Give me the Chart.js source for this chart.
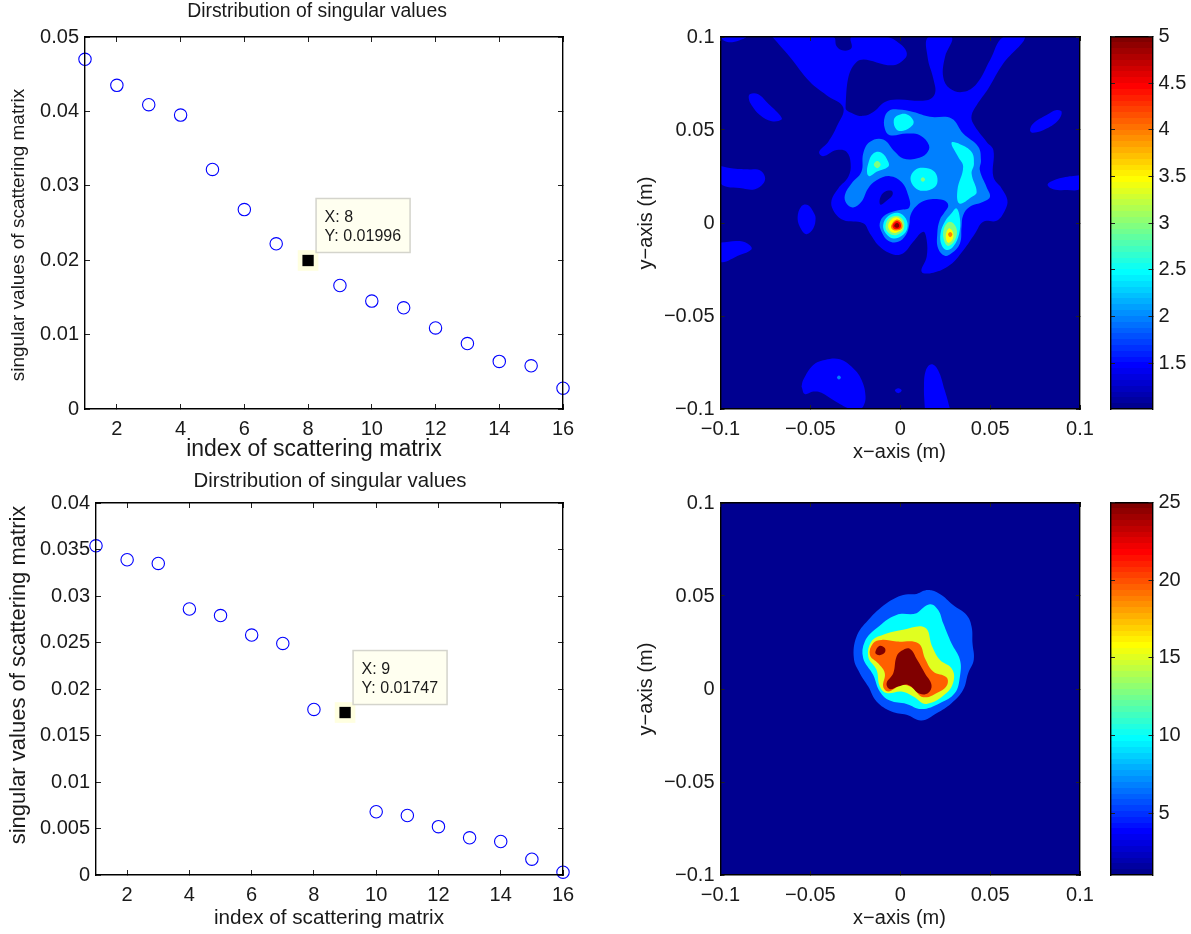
<!DOCTYPE html>
<html>
<head>
<meta charset="utf-8">
<title>Dirstribution of singular values</title>
<script src="https://cdn.jsdelivr.net/npm/chart.js@4"></script>
<style>
  body { margin: 0; background: #fff; }
  canvas { position: absolute; }
</style>
</head>
<body>
<canvas id="scatterTop" style="left:0;top:0" width="600" height="466"></canvas>
<canvas id="contourTop" style="left:600px;top:0" width="500" height="466"></canvas>
<canvas id="barTop" style="left:1100px;top:0" width="91" height="466"></canvas>
<canvas id="scatterBottom" style="left:0;top:466px" width="600" height="466"></canvas>
<canvas id="contourBottom" style="left:600px;top:466px" width="500" height="466"></canvas>
<canvas id="barBottom" style="left:1100px;top:466px" width="91" height="466"></canvas>
<script>
// singular values
var indexes = [1, 2, 3, 4, 5, 6, 7, 8, 9, 10, 11, 12, 13, 14, 15, 16];
var valuesTop = [0.0470, 0.0435, 0.0409, 0.0395, 0.0322, 0.0268, 0.0222, 0.01996, 0.0166, 0.0145, 0.0136, 0.0109, 0.0088, 0.0064, 0.0058, 0.0028];
var valuesBottom = [0.0354, 0.0339, 0.0335, 0.0286, 0.0279, 0.0258, 0.0249, 0.0178, 0.01747, 0.0068, 0.0064, 0.0052, 0.0040, 0.0036, 0.0017, 0.0003];
var pickedTop = 8;
var pickedBottom = 9;

var xTicksScatter = [2, 4, 6, 8, 10, 12, 14, 16];
var yTicksTop = [0, 0.01, 0.02, 0.03, 0.04, 0.05];
var yTicksBottom = [0, 0.005, 0.01, 0.015, 0.02, 0.025, 0.03, 0.035, 0.04];
var ticksContour = [-0.1, -0.05, 0, 0.05, 0.1];
var barTicksTop = [1.5, 2, 2.5, 3, 3.5, 4, 4.5, 5];
var barTicksBottom = [5, 10, 15, 20, 25];

// jet(64), colour bars and contour levels use it
var jet = ['#000090','#0000A0','#0000B0','#0000C0','#0000D0','#0000E0','#0000F0','#0000FF',
  '#0010FF','#0020FF','#0030FF','#0040FF','#0050FF','#0060FF','#0070FF','#0080FF',
  '#0090FF','#00A0FF','#00B0FF','#00C0FF','#00D0FF','#00E0FF','#00F0FF','#00FFFF',
  '#10FFF0','#20FFE0','#30FFD0','#40FFC0','#50FFB0','#60FFA0','#70FF90','#80FF80',
  '#90FF70','#A0FF60','#B0FF50','#C0FF40','#D0FF30','#E0FF20','#F0FF10','#FFFF00',
  '#FFF000','#FFE000','#FFD000','#FFC000','#FFB000','#FFA000','#FF9000','#FF8000',
  '#FF7000','#FF6000','#FF5000','#FF4000','#FF3000','#FF2000','#FF1000','#FF0000',
  '#F00000','#E00000','#D00000','#C00000','#B00000','#A00000','#900000','#800000'];

// contour outlines, [x, y] in mm
var frame = [[-100,-100],[-100,100],[100,100],[100,-100]];

var topMain = [[-71.1,100],[-61.4,89.3],[-50.3,75.9],[-41,68.7],[-31.7,62.1],[-35.4,51.7],[-40.1,43.6],[-45.1,38.3],[-42.9,35.9],[-35.4,39.2],[-29.9,38.3],[-27.6,32],[-28.9,24.8],[-34.5,18.6],[-38.2,12.3],[-37.3,6.9],[-31.7,1.6],[-20.6,-0.2],[-16.9,-5.6],[-11.3,-12.8],[-3.9,-16.9],[1.7,-16.3],[7.2,-10.1],[12.8,-4.7],[14.7,-9.2],[14.7,-18.1],[11.9,-26.2],[18.4,-26.7],[27.6,-22.6],[35.1,-14.6],[41.6,-5.6],[46.2,0.7],[53.6,1.2],[58.3,6.9],[59.6,12.3],[56.4,18.6],[51.8,24.8],[51.8,39.2],[48.1,43.6],[40.6,53.5],[39.7,57.9],[42.5,63.3],[49,72.3],[57.3,85.7],[69.4,100],[57.3,100],[49.9,87.5],[42.5,74.9],[35.1,70.5],[27.6,72.3],[23.9,78.5],[24.9,89.3],[28.6,100],[15.6,100],[15.2,89.3],[18.4,77.6],[19.3,69.6],[14.7,66],[-2,66.4],[-8.5,65.1],[-15,59.7],[-20.6,57.6],[-26.2,58.8],[-30.4,62.1],[-24.3,86.6],[-3.9,84.8],[2.6,88.4],[3.5,92],[-0.2,96.4],[-7.6,100],[-27.1,100],[-27.1,94.1],[-31.7,92.7],[-35.4,95],[-37.3,100]];
var topPatches = [
  [[-100,100],[-98,98],[-93.5,97.2],[-88.3,98.6],[-85.9,100]],
  [[-83.7,69.2],[-79,69.2],[-73.4,64.1],[-66.9,57.9],[-66,55.6],[-71.5,54.7],[-78.1,58],[-82.7,63.3],[-84.2,66.6]],
  [[-100,30.7],[-92.9,29.3],[-83.7,28.8],[-78.1,28.4],[-75.3,24.8],[-76.2,21.2],[-80.8,18.2],[-87.4,18.5],[-100,21.2]],
  [[89.8,59.7],[87,60.7],[81.4,58],[74,53.5],[72.2,49.9],[74,48.5],[81.4,50.8],[87.9,55.3]],
  [[100,25.7],[90.7,24.5],[83.3,22.1],[82,20.3],[85.1,18.2],[92.6,17.7],[100,18.5]],
  [[-57.1,2.5],[-54.9,9.1],[-51.2,9.6],[-48.1,5.5],[-47.1,2.5],[-48.4,-2.9],[-52.1,-6],[-54.9,-3.8]],
  [[-100,-10.5],[-89.3,-9.7],[-83.7,-11.9],[-82.8,-14.2],[-89.3,-17.2],[-100,-20.8]],
  [[-54.9,-88],[-54,-84.4],[-48.4,-76.3],[-41.9,-73.6],[-33.6,-73.3],[-26.2,-78.1],[-21.5,-84.4],[-19.3,-93.3],[-20.6,-98.7],[-22.8,-100],[-27.6,-100],[-37.3,-95.1],[-43.8,-91.2],[-48.4,-90.6],[-53.1,-91.9]],
  [[-3,-90.1],[-1.1,-88.8],[0.8,-90.1],[-1.1,-91.5]],
  [[13.7,-100],[13.2,-87.9],[14.3,-79],[17.4,-75.9],[21,-79],[24.7,-89.8],[27.3,-98.7],[27.3,-100]]
];
var topLight = [
  [[-1.2,61],[7.2,59.7],[16.5,57.1],[28.5,56.2],[35,48.1],[43.4,41],[44.9,33.8],[44.3,28.4],[48,19.4],[49.9,14.1],[46.2,11.4],[38.7,8.7],[35,4.2],[34.1,-2],[33.2,-11],[28.5,-16.3],[24.8,-17.6],[21.1,-13.7],[20.6,-5.6],[22,1.6],[24.8,6],[26.7,9.6],[23.9,12.3],[14.6,12.3],[9,9.1],[5.7,4.2],[5,-1.1],[3.1,-6.5],[-1.2,-10.1],[-6.7,-9.5],[-10.4,-4.7],[-11.4,-0.2],[-8.6,4.2],[-1.2,6.9],[5,8.4],[4.4,15],[0.7,22.1],[-5.8,25.2],[-13.2,23],[-17.9,18.6],[-21.6,11.4],[-26.2,8.4],[-29.9,10.5],[-30.8,15],[-27.1,21.2],[-21.6,27.5],[-20.6,37.4],[-17,43.6],[-9.5,44.9],[-3,38.3],[1.6,34.7],[9,34.7],[14.6,37.4],[16,41.8],[10.9,47.2],[3.5,48.1],[-5.8,47.2],[-8.6,50.8],[-8.6,57.1],[-5.8,60.6]],
  [[-35.2,-83.1],[-34.1,-82],[-33,-83.1],[-34.1,-84.2]]
];
var topHole = [[-11.3,13.2],[-8.6,16.8],[-4.8,17.3],[-4.3,15],[-7.6,11.9],[-10.9,9.8]];
var topCyan = [
  [[-3.6,55.3],[-1.2,57.9],[3.5,58.5],[7.2,55.3],[6.8,52.6],[1.6,49.6],[-2.1,50.3]],
  [[-18.4,26.6],[-17.8,32],[-15,37.4],[-10.4,37.8],[-6.7,32.9],[-6.7,30.2],[-13.2,27.5],[-16.9,25.2]],
  [[5.7,23.9],[8.1,28.4],[12.8,29.7],[18.4,28.1],[20.7,23.9],[19.3,19.4],[12.8,17.3],[8.1,19.1]],
  [[28.5,43.1],[33.2,42.4],[39.7,38.2],[41,31.9],[39.7,26.5],[42.5,16.7],[39.7,14],[32.9,10.5],[31.8,17.6],[35,30.2],[32.2,35.6]],
  [[31.3,7.8],[33.2,2.4],[32.8,-5.6],[29.5,-12.7],[25.8,-14.5],[23,-11.8],[22.4,-5.6],[24.8,0.7],[28.5,5.2]],
  [[-9.5,-1.1],[-6.7,3.7],[-1.2,5.5],[3.1,2.4],[3.9,-2.9],[0.7,-7],[-3.9,-8.3],[-8,-5.6]]
];
var topGreen = [
  [[-14.7,31.4],[-12.8,33.3],[-10.9,31.4],[-12.8,29.5]],
  [[11.4,23.4],[12.6,24.6],[13.8,23.4],[12.6,22.2]],
  [[27.6,0.7],[31.3,-2.9],[30.4,-9.2],[26.7,-12.3],[24.3,-9.2],[24.3,-2.9]],
  [[-8.2,-1.7],[-6.2,2.5],[-1.7,3.9],[1.6,1.6],[2.1,-2.9],[-0.2,-5.6],[-3.9,-6.5],[-7.1,-4.7]]
];
var topYellow = [
  [[27.6,-2.9],[29.5,-5.6],[28.9,-9.2],[26.7,-10.6],[25.4,-8.3],[25.8,-4.7]],
  [[-6.7,-1.1],[-4.9,1.9],[-1.7,3],[0.7,0.7],[1.1,-2.9],[-1.1,-4.7],[-3.9,-5.3],[-6,-3.8]]
];
var topOrange = [
  [[26.6,-6.2],[27.8,-4.9],[29,-6.2],[27.8,-7.6]],
  [[-5,-1.2],[-2.2,1.8],[0.7,0.4],[1,-2.8],[-2,-4],[-4.6,-3.2]]
];
var topRed = [[-4.2,-1],[-2,1.1],[0,0],[0.2,-2.4],[-2,-3.3],[-3.8,-2.8]];
var topDark = [[-3.3,-1.2],[-2,0],[-0.8,-0.6],[-0.7,-2],[-2,-2.6],[-3,-2.2]];

var bottomBlue = [[15.5,53.2],[22,51.1],[29.4,45.2],[36.9,39.8],[39.7,33.5],[40.2,24.6],[40.9,15.7],[37.8,8.5],[35,-0.4],[28.5,-7.6],[20.2,-13],[11.8,-16.9],[3.5,-13.9],[-4.9,-12.1],[-13.2,-6.7],[-17.8,1.3],[-22.5,8.5],[-25.8,16.5],[-24.3,28.2],[-17.8,37.1],[-7.6,46.1],[1.6,50.6],[9.1,51.1]];
var bottomCyan = [[16.5,45.6],[21.1,42.5],[23.9,35.3],[28.5,24.6],[33.2,15.7],[33.2,6.7],[30.4,-2.2],[22,-7.6],[11.8,-10.8],[3.5,-8],[-5.8,-6.2],[-11.4,-1.3],[-15.1,7.6],[-20.6,16.5],[-19.7,25.5],[-13.2,32.6],[-2.1,39.8],[9.1,40.7]];
var bottomYellow = [[13.7,33],[17.4,23.7],[22,15.7],[28.5,11.2],[29.8,4.9],[25.7,-2.2],[14.6,-8],[7.2,-4],[0.7,-1.4],[-7.6,-2.2],[-11.4,1.3],[-13.2,10.3],[-17.8,17.4],[-16,25.5],[-9.5,29.1],[1.6,31.8]];
var bottomOrange = [[10,24.6],[13.7,16.5],[18.3,9.4],[25.7,6.3],[26.1,2.2],[22,-1.3],[12.8,-4.4],[6.3,1],[0.7,2.2],[-6.7,-1.3],[-9.5,1.3],[-8.6,8.5],[-12.3,13.8],[-16.9,18.3],[-15.1,24.6],[-10.4,26.4],[-2.1,25.5]];
var bottomDark = [
  [[5.3,21.6],[9.4,15.7],[13.7,8.5],[17.4,2.2],[15.5,-2.2],[10.9,-2.6],[4.4,2.2],[-1.2,1.3],[-5.8,-0.1],[-7.6,3.1],[-3.9,8.5],[-2.1,17.4],[0.7,20.5]],
  [[-13.6,20.7],[-11.4,23.2],[-8.6,22],[-8.6,19.6],[-11.4,18.2],[-13.6,18.9]]
];

var FONT = '"Liberation Sans", Arial, sans-serif';
var INK = '#1a1a1a';

function axis(position, min, max, ticks, size, labelled, tickLength) {
  var wide = position === 'top' || position === 'bottom';
  var len = tickLength || 5;
  return {
    type: 'linear', position: position, min: min, max: max,
    afterBuildTicks: function (s) { s.ticks = ticks.map(function (v) { return { value: v }; }); },
    afterFit: function (s) {
      if (wide) s.height = size; else s.width = size;
      // end labels may hang over the plot box, as in the original
      s.paddingLeft = s.paddingRight = s.paddingTop = s.paddingBottom = 0;
    },
    border: { color: '#000', width: 1.4, z: 1 },
    grid: { drawOnChartArea: false, tickLength: -len, tickWidth: 1, tickColor: '#222', z: 1 },
    ticks: {
      display: labelled, autoSkip: false, maxRotation: 0, padding: len + (wide ? 8 : 6), color: INK,
      font: { family: FONT, size: 20 },
      callback: function (v) { return String(v).replace('-', '\u2212'); }
    }
  };
}

// titles and axis names sit off centre in the original, so they are placed by hand
function captions(list) {
  return {
    id: 'captions',
    afterDraw: function (chart) {
      var ctx = chart.ctx;
      list.forEach(function (c) {
        ctx.save();
        ctx.translate(c.x, c.y);
        if (c.up) ctx.rotate(-Math.PI / 2);
        ctx.font = c.size + 'px ' + FONT;
        ctx.fillStyle = INK;
        ctx.textAlign = 'center';
        ctx.textBaseline = 'middle';
        ctx.fillText(c.text, 0, 0);
        ctx.restore();
      });
    }
  };
}

function datatip(x, y) {
  return {
    id: 'datatip',
    afterDraw: function (chart) {
      var ctx = chart.ctx;
      var px = chart.scales.x.getPixelForValue(x);
      var py = chart.scales.y.getPixelForValue(y);
      ctx.save();
      ctx.fillStyle = '#FFFFF0';
      ctx.strokeStyle = '#D4D4CC';
      ctx.lineWidth = 1.5;
      ctx.fillRect(px + 8, py - 62, 94, 54);
      ctx.strokeRect(px + 8, py - 62, 94, 54);
      ctx.fillStyle = INK;
      ctx.font = '16px ' + FONT;
      ctx.textBaseline = 'middle';
      ctx.fillText('X: ' + x, px + 16.5, py - 43);
      ctx.fillText('Y: ' + y, px + 16.5, py - 24);
      ctx.restore();
    }
  };
}

function scatterChart(id, values, picked, yMax, yTicks, leftWidth, texts) {
  var circles = [];
  indexes.forEach(function (ix, i) {
    if (ix !== picked) circles.push({ x: ix, y: values[i] });
  });
  var tip = [{ x: picked, y: values[picked - 1] }];
  new Chart(document.getElementById(id), {
    type: 'scatter',
    data: {
      datasets: [
        { data: tip, pointStyle: 'rect', pointRadius: 8, pointBorderWidth: 0, backgroundColor: '#000', clip: false, order: 0 },
        { data: tip, pointStyle: 'rect', pointRadius: 14.6, pointBorderWidth: 0, backgroundColor: '#FFFFE0', clip: false, order: 1 },
        { data: circles, pointRadius: 6.2, pointBorderWidth: 1.1, pointBorderColor: '#0000FF', backgroundColor: 'transparent', clip: false, order: 2 }
      ]
    },
    options: {
      responsive: false, animation: false, events: [],
      layout: { padding: { top: 37, right: 37 } },
      plugins: { legend: { display: false }, tooltip: { enabled: false } },
      scales: {
        x: axis('bottom', 1, 16, xTicksScatter, 57, true),
        y: axis('left', 0, yMax, yTicks, leftWidth, true),
        x2: axis('top', 1, 16, xTicksScatter, 0, false),
        y2: axis('right', 0, yMax, yTicks, 0, false)
      }
    },
    plugins: [captions(texts), datatip(picked, values[picked - 1])]
  });
}

function outline(poly) {
  var pts = poly.map(function (p) { return { x: p[0] / 1000, y: p[1] / 1000 }; });
  var onEdge = poly.some(function (p) { return Math.abs(p[0]) === 100 || Math.abs(p[1]) === 100; });
  // free-standing blobs wrap round one vertex so the spline has no kink where it closes
  if (!onEdge) return [pts[pts.length - 1]].concat(pts, [pts[0], pts[1]]);
  pts.push(pts[0]);
  return pts;
}

function contourChart(id, layers, texts) {
  var sets = [];
  layers.forEach(function (layer) {
    layer.polys.forEach(function (poly) {
      sets.push({
        data: outline(poly), showLine: true, fill: 'shape', tension: layer.tension === undefined ? 0.4 : layer.tension,
        backgroundColor: layer.color, borderColor: 'transparent', borderWidth: 0, pointRadius: 0, order: -sets.length
      });
    });
  });
  new Chart(document.getElementById(id), {
    type: 'scatter',
    data: { datasets: sets },
    options: {
      responsive: false, animation: false, events: [],
      layout: { padding: { top: 37, right: 20 } },
      plugins: { legend: { display: false }, tooltip: { enabled: false } },
      scales: {
        x: axis('bottom', -0.1, 0.1, ticksContour, 57, true, 4),
        y: axis('left', -0.1, 0.1, ticksContour, 120.5, true, 4),
        x2: axis('top', -0.1, 0.1, ticksContour, 0, false, 4),
        y2: axis('right', -0.1, 0.1, ticksContour, 0, false, 4)
      }
    },
    plugins: [captions(texts)]
  });
}

function colourBar(id, min, max, ticks) {
  new Chart(document.getElementById(id), {
    type: 'bar',
    data: {
      labels: [''],
      datasets: [{
        data: [[min, max]], barPercentage: 1, categoryPercentage: 1, yAxisID: 'y',
        backgroundColor: function (c) {
          var area = c.chart.chartArea;
          if (!area) return jet[0];
          var g = c.chart.ctx.createLinearGradient(0, area.bottom, 0, area.top);
          jet.forEach(function (col, i) {
            g.addColorStop(i / jet.length, col);
            g.addColorStop((i + 1) / jet.length, col);
          });
          return g;
        }
      }]
    },
    options: {
      responsive: false, animation: false, events: [],
      layout: { padding: { top: 36.5 } },
      plugins: { legend: { display: false }, tooltip: { enabled: false } },
      scales: {
        x: { type: 'category', position: 'bottom', afterFit: function (s) { s.height = 57; },
          border: { color: '#000', width: 1.4, z: 1 }, grid: { display: false }, ticks: { display: false } },
        x2: { type: 'category', position: 'top', afterFit: function (s) { s.height = 0; },
          border: { color: '#000', width: 1.4, z: 1 }, grid: { display: false }, ticks: { display: false } },
        y: axis('right', min, max, ticks, 38.5, true, 4),
        y2: axis('left', min, max, ticks, 11, false, 4)
      }
    }
  });
}

scatterChart('scatterTop', valuesTop, pickedTop, 0.05, yTicksTop, 85, [
  { text: 'Dirstribution of singular values', x: 317, y: 12, size: 19.4 },
  { text: 'index of scattering matrix', x: 314, y: 450, size: 23 },
  { text: 'singular values of scattering matrix', x: 19, y: 235, size: 19, up: true }
]);
contourChart('contourTop', [
  { color: jet[0], polys: [frame], tension: 0 },
  { color: jet[7], polys: [topMain].concat(topPatches) },
  { color: jet[15], polys: topLight },
  { color: jet[0], polys: [topHole] },
  { color: jet[23], polys: topCyan },
  { color: jet[31], polys: topGreen },
  { color: jet[39], polys: topYellow },
  { color: jet[47], polys: topOrange },
  { color: jet[55], polys: [topRed] },
  { color: jet[63], polys: [topDark] }
], [
  { text: 'x\u2212axis (m)', x: 299.5, y: 452, size: 20 },
  { text: 'y\u2212axis (m)', x: 46, y: 223, size: 20, up: true }
]);
colourBar('barTop', 1.01, 5, barTicksTop);

scatterChart('scatterBottom', valuesBottom, pickedBottom, 0.04, yTicksBottom, 96, [
  { text: 'Dirstribution of singular values', x: 330, y: 15, size: 20.4 },
  { text: 'index of scattering matrix', x: 329, y: 452, size: 20.7 },
  { text: 'singular values of scattering matrix', x: 19, y: 209, size: 22, up: true }
]);
contourChart('contourBottom', [
  { color: jet[0], polys: [frame], tension: 0 },
  { color: jet[12], polys: [bottomBlue] },
  { color: jet[23], polys: [bottomCyan] },
  { color: jet[37], polys: [bottomYellow] },
  { color: jet[49], polys: [bottomOrange] },
  { color: jet[63], polys: bottomDark }
], [
  { text: 'x\u2212axis (m)', x: 299.5, y: 452, size: 20 },
  { text: 'y\u2212axis (m)', x: 46, y: 223, size: 20, up: true }
]);
colourBar('barBottom', 1.01, 25, barTicksBottom);
</script>
</body>
</html>
